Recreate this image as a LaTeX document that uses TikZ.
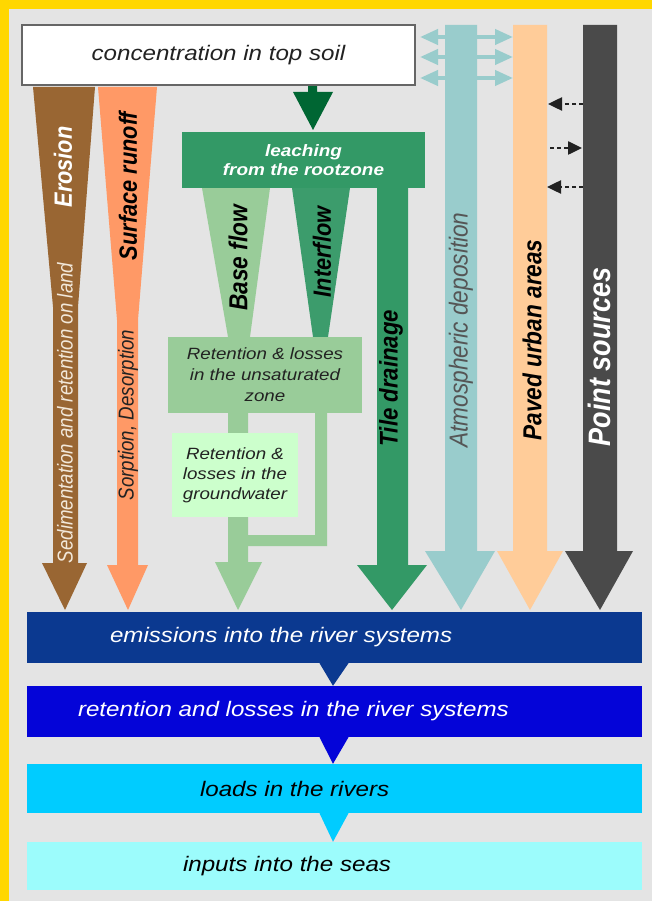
\documentclass[tikz,border=0pt]{standalone}
\usepackage{fontspec}
\setmainfont{Liberation Sans}
\newfontfamily\wideface[FakeStretch=1.15]{Liberation Sans}
\newfontfamily\tallface[FakeStretch=0.87]{Liberation Sans}
\usetikzlibrary{arrows.meta}
\definecolor{gold}{HTML}{FFD700}
\definecolor{panel}{HTML}{E4E4E4}
\definecolor{frame}{HTML}{666666}
\definecolor{ink}{HTML}{222222}
\definecolor{ash}{HTML}{555555}
\definecolor{cream}{HTML}{F2E8DA}
\definecolor{clay}{HTML}{996633}
\definecolor{apricot}{HTML}{FF9966}
\definecolor{pine}{HTML}{006633}
\definecolor{leaf}{HTML}{339966}
\definecolor{fern}{HTML}{3C9C6C}
\definecolor{sage}{HTML}{99CC99}
\definecolor{mint}{HTML}{CCFFCC}
\definecolor{mist}{HTML}{99CCCC}
\definecolor{sand}{HTML}{FFCC99}
\definecolor{slate}{HTML}{4A4A4A}
\definecolor{riverdeep}{HTML}{0B3990}
\definecolor{riverblue}{HTML}{0404D8}
\definecolor{riversky}{HTML}{00CCFF}
\definecolor{seafoam}{HTML}{9CFCFC}
\tikzset{
 hthin/.style 2 args={inner sep=0pt,align=center,font=\wideface\itshape\fontsize{#1}{#2}\selectfont},
 hbold/.style 2 args={inner sep=0pt,align=center,font=\wideface\bfseries\itshape\fontsize{#1}{#2}\selectfont},
 vthin/.style={rotate=90,inner sep=0pt,font=\tallface\itshape\fontsize{#1}{#1}\selectfont},
 vthin/.default=21.5,
 vbold/.style={rotate=90,inner sep=0pt,font=\tallface\bfseries\itshape\fontsize{#1}{#1}\selectfont},
 vbold/.default=25,
 band/.style={inner sep=0pt,minimum width=615pt}
}

\begin{document}
\begin{tikzpicture}[x=1pt,y=-1pt]
 \fill[gold] (0,0) rectangle (652,901);
 \fill[panel] (9,9) rectangle (652,901);
 \foreach \y in {37,57,78}
  \draw[mist,line width=4pt,{Triangle[width=15pt,length=18pt]}-{Triangle[width=15pt,length=18pt]}] (420,\y) -- (513,\y);
 \fill[clay] (33,87) -- (95,87) -- (78,307) -- (78,563) -- (87,563) -- (65,610) -- (42,563) -- (53,563) -- (53,307) -- cycle;
 \fill[apricot] (98,87) -- (157,87) -- (138,320) -- (138,565) -- (148,565) -- (128,610) -- (107,565) -- (117,565) -- (117,320) -- cycle;
 \fill[sage] (202,188) -- (270,188) -- (250,337) -- (228,337) -- cycle;
 \fill[sage] (228,337) -- (248,337) -- (248,562) -- (262,562) -- (238,610) -- (215,562) -- (228,562) -- cycle;
 \fill[sage] (315,337) -- (327,337) -- (327,546) -- (248,546) -- (248,535) -- (315,535) -- cycle;
 \fill[fern] (292,188) -- (350,188) -- (328,337) -- (313,337) -- cycle;
 \fill[leaf] (377,188) -- (408,188) -- (408,565) -- (427,565) -- (392,610) -- (357,565) -- (377,565) -- cycle;
 \node[fill=leaf,minimum width=243pt,minimum height=56pt,hbold={16.5}{19},text=white] (leach) at (303.5,160) {leaching\\from the rootzone};
 \fill[pine] (308,86) -- (317,86) -- (317,92) -- (333,92) -- (313,130) -- (293,92) -- (308,92) -- cycle;
 \node[fill=sage,minimum width=194pt,minimum height=76pt,hthin={16.3}{21},text=ink] (unsat) at (265,375) {Retention \& losses\\in the unsaturated\\zone};
 \node[fill=mint,minimum width=126pt,minimum height=84pt,hthin={16.3}{20},text=ink] (gw) at (235,475) {Retention \&\\losses in the\\groundwater};
 \draw[ink,line width=2.5pt,dash pattern=on 4pt off 3pt,-{Triangle[width=13pt,length=14pt]}] (590,104) -- (548,104);
 \draw[ink,line width=2.5pt,dash pattern=on 4pt off 3pt,-{Triangle[width=13pt,length=14pt]}] (550,148) -- (582,148);
 \draw[ink,line width=2.5pt,dash pattern=on 4pt off 3pt,-{Triangle[width=13pt,length=14pt]}] (590,187) -- (547,187);
 \fill[mist] (445,25) -- (477,25) -- (477,551) -- (495,551) -- (461,610) -- (425,551) -- (445,551) -- cycle;
 \fill[sand] (513,25) -- (547,25) -- (547,551) -- (563,551) -- (530,610) -- (497,551) -- (513,551) -- cycle;
 \fill[slate] (583,25) -- (617,25) -- (617,551) -- (633,551) -- (600,610) -- (565,551) -- (583,551) -- cycle;
 \node[draw=frame,line width=2pt,fill=white,minimum width=393pt,minimum height=60pt,hthin={21}{25},text=ink] (soil) at (218.5,55) {concentration in top soil};
 \node[band,fill=riverdeep,minimum height=51pt] (emis) at (334.5,637.5) {};
 \node[band,fill=riverblue,minimum height=51pt] (ret) at (334.5,711.5) {};
 \node[band,fill=riversky,minimum height=49pt] (loads) at (334.5,788.5) {};
 \node[band,fill=seafoam,minimum height=48pt] (seas) at (334.5,866) {};
 \fill[riverdeep] ([xshift=-15pt]emis.south) -- ([xshift=14pt]emis.south) -- ([xshift=-1.5pt]ret.north) -- cycle;
 \fill[riverblue] ([xshift=-15pt]ret.south) -- ([xshift=14pt]ret.south) -- ([xshift=-1.5pt]loads.north) -- cycle;
 \fill[riversky] ([xshift=-15pt]loads.south) -- ([xshift=14pt]loads.south) -- ([xshift=-1.5pt]seas.north) -- cycle;
 \node[hthin={21}{25},text=white,anchor=west] (emistext) at ([xshift=83pt]emis.west) {emissions into the river systems};
 \node[hthin={21}{25},text=white,anchor=west] (rettext) at ([xshift=51pt]ret.west) {retention and losses in the river systems};
 \node[hthin={21}{25},text=black,anchor=west] (loadstext) at ([xshift=173pt]loads.west) {loads in the rivers};
 \node[hthin={21}{25},text=black,anchor=west] (seastext) at ([xshift=156pt]seas.west) {inputs into the seas};
 \node[vbold,text=white] (erosion) at (63,167) {Erosion};
 \node[vbold,text=black] (runoff) at (128,186) {Surface runoff};
 \node[vthin,text=cream] (sediment) at (65,413) {Sedimentation and retention on land};
 \node[vthin,text=ink] (sorption) at (128,415) {Sorption, Desorption};
 \node[vbold=26,text=black] (baseflow) at (238,258) {Base flow};
 \node[vbold,text=black] (interflow) at (322,252) {Interflow};
 \node[vbold=25.5,text=black] (tile) at (391,378) {Tile drainage};
 \node[vthin=26,text=ash] (atmos) at (461,330) {Atmospheric deposition};
 \node[vbold=26,text=black] (paved) at (532,340) {Paved urban areas};
 \node[vbold=31,text=white] (point) at (599,357) {Point sources};
\end{tikzpicture}
\end{document}
